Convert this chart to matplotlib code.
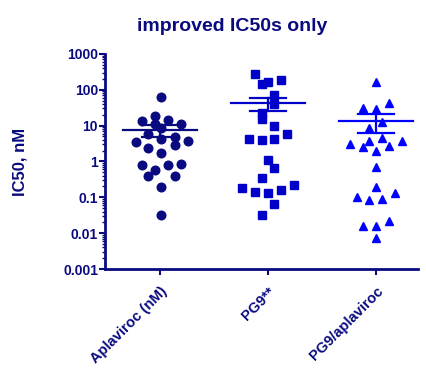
import numpy as np
import matplotlib
matplotlib.use("Agg")
import matplotlib.pyplot as plt
from matplotlib.ticker import LogLocator, NullFormatter, FixedLocator

NAVY = "#0a0a80"
plt.rcParams.update({"font.family": ["Liberation Sans", "DejaVu Sans"], "font.weight": "bold"})

groups = ["Aplaviroc (nM)", "PG9**", "PG9/aplaviroc"]
colors = ["#0a0a80", "#0000c8", "#0000ff"]
markers = ["o", "s", "^"]

aplaviroc = [62, 19, 13.8, 14.4, 11.4, 10.9, 8.4, 5.7, 3.4, 4.2, 4.7, 3.7, 2.8, 2.3,
             1.76, 0.80, 0.80, 0.84, 0.57, 0.39, 0.39, 0.19, 0.033]
pg9 = [282, 148, 162, 185, 73, 40, 22.6, 15, 9.6, 4.3, 4.0, 4.1, 5.8, 1.1, 0.66,
       0.35, 0.18, 0.14, 0.13, 0.16, 0.22, 0.066, 0.033]
pg9_apla = [169, 30.5, 29.2, 42, 12.9, 8.4, 3.1, 2.5, 3.7, 4.4, 2.7, 3.6, 1.96, 0.69,
            0.198, 0.104, 0.084, 0.090, 0.129, 0.0158, 0.0161, 0.0218, 0.0072]
# horizontal scatter offsets (in category units)
jit_a = [0.01, -0.05, -0.17, 0.07, 0.19, -0.05, 0.01, -0.11, -0.22, 0.01, 0.14, 0.26,
         0.14, -0.11, 0.01, -0.17, 0.07, 0.19, -0.05, -0.11, 0.14, 0.01, 0.01]
jit_p = [-0.12, -0.06, 0.0, 0.12, 0.06, 0.06, -0.06, -0.06, 0.06, -0.18, -0.06, 0.06,
         0.18, 0.0, 0.06, -0.06, -0.24, -0.12, 0.0, 0.12, 0.24, 0.06, -0.06]
jit_q = [0.0, -0.12, 0.0, 0.12, 0.06, -0.06, -0.24, -0.12, -0.06, 0.06, 0.12, 0.24,
         0.0, 0.0, 0.0, -0.18, -0.06, 0.06, 0.18, -0.12, 0.0, 0.12, 0.0]
data = [aplaviroc, pg9, pg9_apla]
jits = [jit_a, jit_p, jit_q]
msizes = [6.2, 5.6, 6.2]

fig = plt.figure(figsize=(4.27, 3.69), dpi=100)
ax = fig.add_axes([0.246, 0.271, 0.733, 0.583])

for i, (vals, jit) in enumerate(zip(data, jits)):
    v = np.array(vals)
    ax.plot(i + np.array(jit), v, ls="none", marker=markers[i], ms=msizes[i],
            color=colors[i], mec=colors[i], zorder=3)
    # mean +/- SEM
    m = v.mean()
    sem = v.std(ddof=1) / np.sqrt(len(v))
    ax.plot([i - 0.34, i + 0.34], [m, m], color=colors[i], lw=1.6, zorder=4)
    ax.plot([i, i], [m - sem, m + sem], color=colors[i], lw=1.6, zorder=4)
    for y in (m - sem, m + sem):
        ax.plot([i - 0.17, i + 0.17], [y, y], color=colors[i], lw=1.6, zorder=4)

ax.set_yscale("log")
ax.set_ylim(0.001, 1000)
ax.set_xlim(-0.51, 2.39)
ax.yaxis.set_major_locator(FixedLocator([0.001, 0.01, 0.1, 1, 10, 100, 1000]))
ax.set_yticklabels(["0.001", "0.01", "0.1", "1", "10", "100", "1000"])
ax.yaxis.set_minor_locator(LogLocator(base=10, subs=np.arange(2, 10)))
ax.yaxis.set_minor_formatter(NullFormatter())
ax.set_xticks(range(3))
ax.set_xticklabels(groups, rotation=45, ha="right", va="top", rotation_mode="anchor")

for s in ("top", "right"):
    ax.spines[s].set_visible(False)
for s in ("left", "bottom"):
    ax.spines[s].set_color(NAVY)
    ax.spines[s].set_linewidth(2)
ax.tick_params(axis="y", which="major", length=4, width=1.5, color=NAVY, labelcolor=NAVY,
               labelsize=10, pad=1)
ax.tick_params(axis="y", which="minor", length=2.5, width=1, color=NAVY)
ax.tick_params(axis="x", length=4, width=1.5, color=NAVY, labelcolor=NAVY, labelsize=10.5, pad=7)

fig.text(0.048, 0.56, "IC50, nM", rotation=90, ha="center", va="center", color=NAVY,
         fontsize=12, fontweight="bold")
fig.text(0.544, 0.916, "improved IC50s only", ha="center", va="baseline", color=NAVY,
         fontsize=14, fontweight="bold")

fig.savefig("out.png", dpi=100)
